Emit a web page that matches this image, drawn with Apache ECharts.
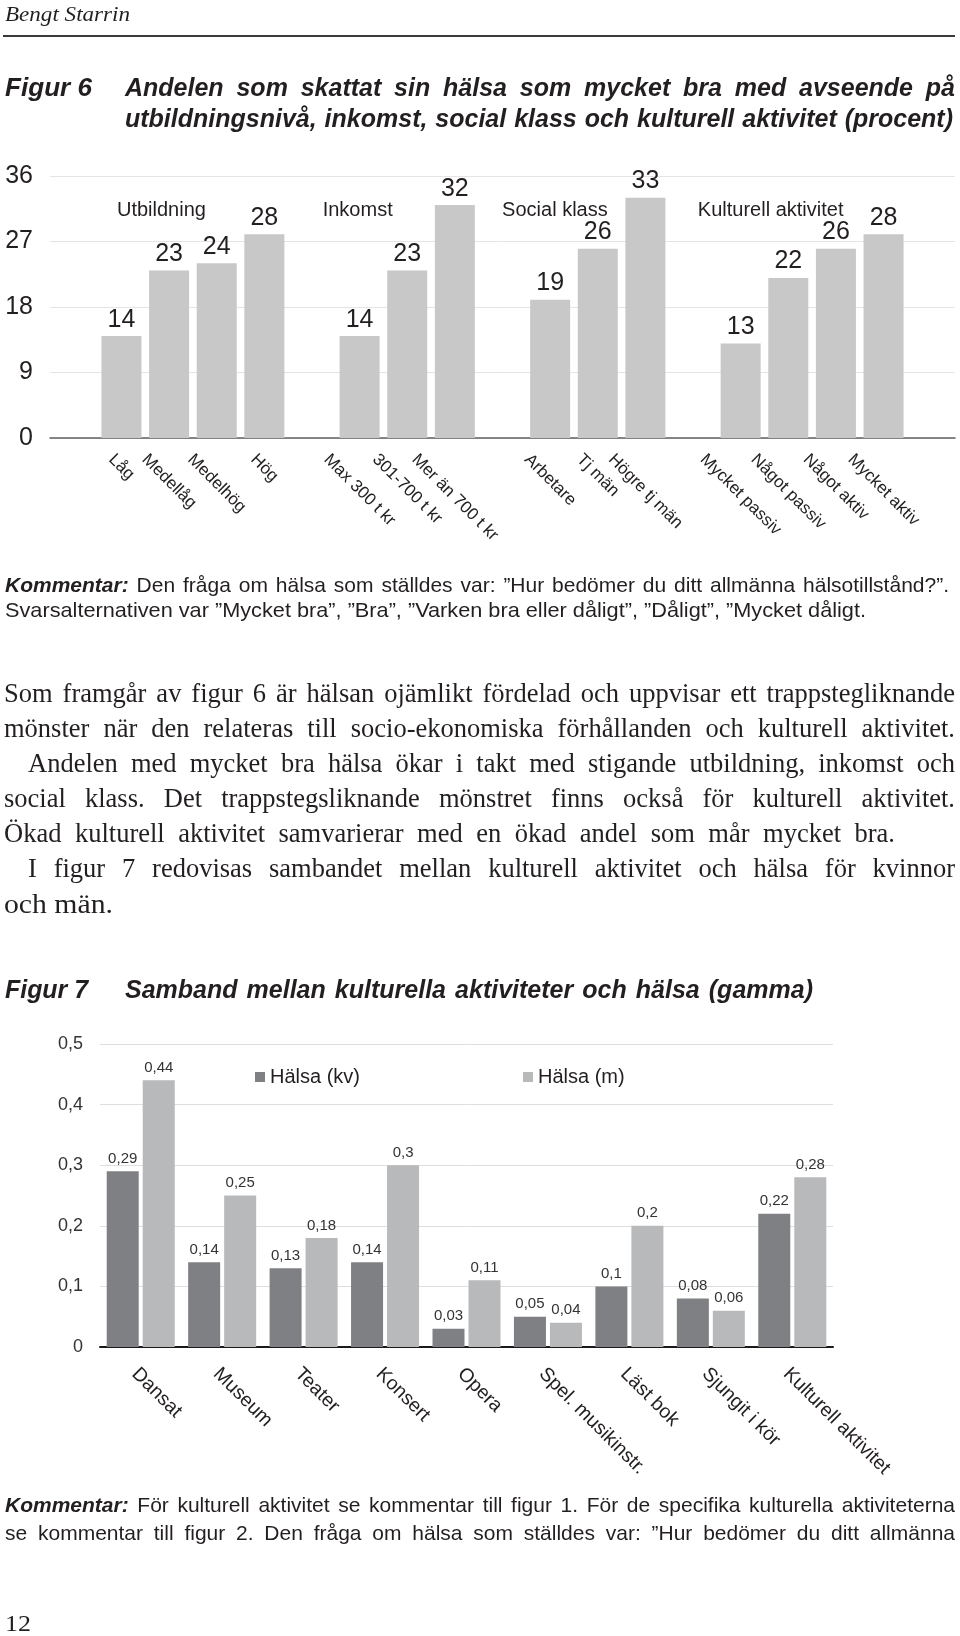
<!DOCTYPE html>
<html><head><meta charset="utf-8">
<script src="https://cdn.jsdelivr.net/npm/echarts@6/dist/echarts.min.js"></script>
<style>
html,body{margin:0;padding:0;background:#fff;}
#page{position:relative;width:960px;height:1636px;overflow:hidden;background:#fff;}
#chart{position:absolute;left:0;top:0;width:960px;height:1636px;}
.ln{position:absolute;white-space:nowrap;color:#231f20;transform-origin:0 50%;}
.sans{font-family:"Liberation Sans",Arial,sans-serif;}
.serif{font-family:"Liberation Serif","Times New Roman",serif;}
.bi{font-weight:bold;font-style:italic;}
.it{font-style:italic;}
</style></head>
<body><div id="page"><div id="chart"></div></div>
<script>
// ---------------- DATA ----------------
const fig6Categories = ['', 'Låg', 'Medellåg', 'Medelhög', 'Hög', '', 'Max 300 t kr', '301-700 t kr', 'Mer än 700 t kr', '', 'Arbetare', 'Tj män', 'Högre tj män', '', 'Mycket passiv', 'Något passiv', 'Något aktiv', 'Mycket aktiv', ''];
const fig6Values = [null, 14, 23, 24, 28, null, 14, 23, 32, null, 19, 26, 33, null, 13, 22, 26, 28, null];
const fig6Groups = ['Utbildning', 'Inkomst', 'Social klass', 'Kulturell aktivitet'];
const fig6YTicks = [0, 9, 18, 27, 36];

const fig7Categories = ['Dansat', 'Museum', 'Teater', 'Konsert', 'Opera', 'Spel. musikinstr.', 'Läst bok', 'Sjungit i kör', 'Kulturell aktivitet'];
const fig7Women = [0.29, 0.14, 0.13, 0.14, 0.03, 0.05, 0.10, 0.08, 0.22];
const fig7Men = [0.44, 0.25, 0.18, 0.30, 0.11, 0.04, 0.20, 0.06, 0.28];
const fig7SeriesNames = ['Hälsa (kv)', 'Hälsa (m)'];
const fig7YTicks = [0, 0.1, 0.2, 0.3, 0.4, 0.5];

// ---------------- LAYOUT (not data) ----------------
const groupLabelAnchor = [1.84, 5.96, 10.1, 14.63]; // fractional category positions
const groupLabelLevel = 31.3;                      // in axis units

// ---------------- TEXT ----------------
const page = document.getElementById('page');
const lines = [
  {html:'Bengt Starrin', cls:'serif it', fs:20, x:5, y:14, w:125, mode:'fit'},
  {html:'Figur 6', cls:'sans bi', fs:25, x:5, y:87, w:87, mode:'fit'},
  {html:'Andelen som skattat sin hälsa som mycket bra med avseende på', cls:'sans bi', fs:25, x:125, y:87, w:830, mode:'justify'},
  {html:'utbildningsnivå, inkomst, social klass och kulturell aktivitet (procent)', cls:'sans bi', fs:25, x:125, y:118, w:828, mode:'justify'},
  {html:'<span class="bi">Kommentar:</span> Den fråga om hälsa som ställdes var: ”Hur bedömer du ditt allmänna hälsotillstånd?”.', cls:'sans', fs:21, x:5, y:584, w:944, mode:'justify'},
  {html:'Svarsalternativen var ”Mycket bra”, ”Bra”, ”Varken bra eller dåligt”, ”Dåligt”, ”Mycket dåligt.', cls:'sans', fs:21, x:5, y:609, w:861, mode:'fit'},
  {html:'Som framgår av figur 6 är hälsan ojämlikt fördelad och uppvisar ett trappstegliknande', cls:'serif', fs:26.5, x:4, y:693, w:951, mode:'justify'},
  {html:'mönster när den relateras till socio-ekonomiska förhållanden och kulturell aktivitet.', cls:'serif', fs:26.5, x:4, y:728, w:951, mode:'justify'},
  {html:'Andelen med mycket bra hälsa ökar i takt med stigande utbildning, inkomst och', cls:'serif', fs:26.5, x:28, y:763, w:927, mode:'justify'},
  {html:'social klass. Det trappstegsliknande mönstret finns också för kulturell aktivitet.', cls:'serif', fs:26.5, x:4, y:798, w:951, mode:'justify'},
  {html:'Ökad kulturell aktivitet samvarierar med en ökad andel som mår mycket bra.', cls:'serif', fs:26.5, x:4, y:833, w:891, mode:'justify'},
  {html:'I figur 7 redovisas sambandet mellan kulturell aktivitet och hälsa för kvinnor', cls:'serif', fs:26.5, x:28, y:868, w:927, mode:'justify'},
  {html:'och män.', cls:'serif', fs:26.5, x:4, y:904, w:109, mode:'fit'},
  {html:'Figur 7', cls:'sans bi', fs:25, x:5, y:989, w:83, mode:'fit'},
  {html:'Samband mellan kulturella aktiviteter och hälsa (gamma)', cls:'sans bi', fs:25, x:125, y:989, w:688, mode:'justify'},
  {html:'<span class="bi">Kommentar:</span> För kulturell aktivitet se kommentar till figur 1. För de specifika kulturella aktiviteterna', cls:'sans', fs:21, x:5, y:1504, w:950, mode:'justify'},
  {html:'se kommentar till figur 2. Den fråga om hälsa som ställdes var: ”Hur bedömer du ditt allmänna', cls:'sans', fs:21, x:5, y:1532, w:950, mode:'justify'},
  {html:'12', cls:'serif', fs:24, x:5, y:1623, w:26, mode:'fit'}
];
lines.forEach(it => {
  const d = document.createElement('div');
  d.className = 'ln ' + it.cls;
  const lh = Math.round(it.fs * 1.4);
  d.style.left = it.x + 'px';
  d.style.top = (it.y - lh / 2) + 'px';
  d.style.fontSize = it.fs + 'px';
  d.style.lineHeight = lh + 'px';
  d.innerHTML = it.html;
  page.appendChild(d);
  const nat = d.getBoundingClientRect().width;
  const spaces = (d.textContent.match(/ /g) || []).length;
  if (nat > it.w || it.mode === 'fit' || spaces === 0) {
    d.style.transform = 'scaleX(' + (it.w / nat) + ')';
  } else {
    d.style.wordSpacing = ((it.w - nat) / spaces) + 'px';
  }
});
const rule = document.createElement('div');
rule.style.cssText = 'position:absolute;left:3px;top:35px;width:952px;height:2px;background:#3a3a3a;';
page.appendChild(rule);

// ---------------- CHART ----------------
const FONT = '"Liberation Sans", Arial, sans-serif';
const INK = '#231f20';
const mctx = document.createElement('canvas').getContext('2d');
const measure = (t, font) => { mctx.font = font; return mctx.measureText(t).width; };
const F6X = 17, F7X = 19.5;
const fig6AxisNames = fig6Categories.map((c, i) => c || ' '.repeat(i + 1));
const comma = v => v === 0 ? '0' : String(+(+v).toFixed(2)).replace('.', ',');

const chart = echarts.init(document.getElementById('chart'), null, {renderer: 'canvas'});
chart.setOption({
  animation: false,
  backgroundColor: 'transparent',
  textStyle: {fontFamily: FONT},
  grid: [
    {left: 50, top: 176, width: 905, height: 262, containLabel: false, outerBoundsMode: 'none'},
    {left: 100, top: 1044, width: 733, height: 303, containLabel: false, outerBoundsMode: 'none'}
  ],
  legend: {
    data: fig7SeriesNames, left: 250, top: 1062, padding: 5, itemGap: 163,
    itemWidth: 10, itemHeight: 10, icon: 'rect',
    textStyle: {fontSize: 20, lineHeight: 20, color: INK, fontFamily: FONT}
  },
  xAxis: [
    {type: 'category', gridIndex: 0, data: fig6AxisNames,
     axisTick: {show: false}, splitLine: {show: false}, axisLabel: {show: false},
     axisLine: {lineStyle: {color: '#5f6062', width: 1.5}}},
    {type: 'category', gridIndex: 1, data: fig7Categories,
     axisTick: {show: false}, splitLine: {show: false}, axisLabel: {show: false},
     axisLine: {lineStyle: {color: '#1a1a1a', width: 2}}}
  ],
  yAxis: [
    {type: 'value', gridIndex: 0, min: fig6YTicks[0], max: fig6YTicks[fig6YTicks.length - 1],
     interval: fig6YTicks[1] - fig6YTicks[0],
     axisLine: {show: false}, axisTick: {show: false},
     axisLabel: {fontSize: 25, color: INK, margin: 17, fontFamily: FONT},
     splitLine: {lineStyle: {color: '#e4e4e4', width: 1}}},
    {type: 'value', gridIndex: 1, min: fig7YTicks[0], max: fig7YTicks[fig7YTicks.length - 1],
     interval: +(fig7YTicks[1] - fig7YTicks[0]).toFixed(2),
     axisLine: {show: false}, axisTick: {show: false},
     axisLabel: {fontSize: 18, color: '#333', margin: 17, fontFamily: FONT, formatter: v => comma(v)},
     splitLine: {lineStyle: {color: '#dedede', width: 1}}}
  ],
  series: [
    {type: 'bar', xAxisIndex: 0, yAxisIndex: 0, data: fig6Values, barCategoryGap: '16%',
     itemStyle: {color: '#c8c8c9'},
     label: {show: true, position: 'top', distance: 4, fontSize: 25, color: INK, fontFamily: FONT}},
    {type: 'bar', name: fig7SeriesNames[0], xAxisIndex: 1, yAxisIndex: 1, data: fig7Women,
     barGap: '12.5%', barCategoryGap: '16.5%', itemStyle: {color: '#7f8083'},
     label: {show: true, position: 'top', distance: 5, fontSize: 15, color: '#333', fontFamily: FONT,
             formatter: p => comma(p.value)}},
    {type: 'bar', name: fig7SeriesNames[1], xAxisIndex: 1, yAxisIndex: 1, data: fig7Men,
     barGap: '12.5%', barCategoryGap: '16.5%', itemStyle: {color: '#b8b9bb'},
     label: {show: true, position: 'top', distance: 5, fontSize: 15, color: '#333', fontFamily: FONT,
             formatter: p => comma(p.value)}}
  ]
});

// ---- annotations and rotated category labels, positioned through the axis scales ----
const px6 = (i, v) => chart.convertToPixel({xAxisIndex: 0, yAxisIndex: 0}, [i, v]);
const px7 = (i, v) => chart.convertToPixel({xAxisIndex: 1, yAxisIndex: 1}, [i, v]);
function catPixel(pos, val) {
  const i0 = Math.floor(pos), f = pos - i0;
  const a = px6(i0, val), b = px6(i0 + 1, val);
  return [a[0] + (b[0] - a[0]) * f, a[1]];
}
const zero6 = px6(0, 0)[1];
const zero7 = px7(0, 0)[1];
const graphics = [];
fig6Groups.forEach((g, k) => {
  const p = catPixel(groupLabelAnchor[k], groupLabelLevel);
  graphics.push({type: 'text', x: p[0], y: p[1], z: 10,
    style: {text: g, align: 'center', verticalAlign: 'middle', fontSize: 20, fill: INK, fontFamily: FONT}});
});
// Fig 6: rotated labels whose rotated box is centred under the tick
fig6Categories.forEach((c, i) => {
  if (!c) return;
  const L = measure(c, F6X + 'px ' + FONT);
  const x = px6(i, 0)[0];
  const y = zero6 + 13 + 0.3536 * (L + F6X);
  graphics.push({type: 'text', x: x, y: y, rotation: -Math.PI / 4, z: 10,
    style: {text: c, align: 'center', verticalAlign: 'middle', fontSize: F6X, lineHeight: F6X, fill: INK, fontFamily: FONT}});
});
// Fig 7: rotated labels starting at the tick
fig7Categories.forEach((c, i) => {
  const x = px7(i, 0)[0];
  graphics.push({type: 'text', x: x + 1, y: zero7 + 17, rotation: -Math.PI / 4, z: 10,
    style: {text: c, align: 'left', verticalAlign: 'top', fontSize: F7X, lineHeight: F7X, fill: INK, fontFamily: FONT}});
});
chart.setOption({graphic: graphics});
</script>
</body></html>
